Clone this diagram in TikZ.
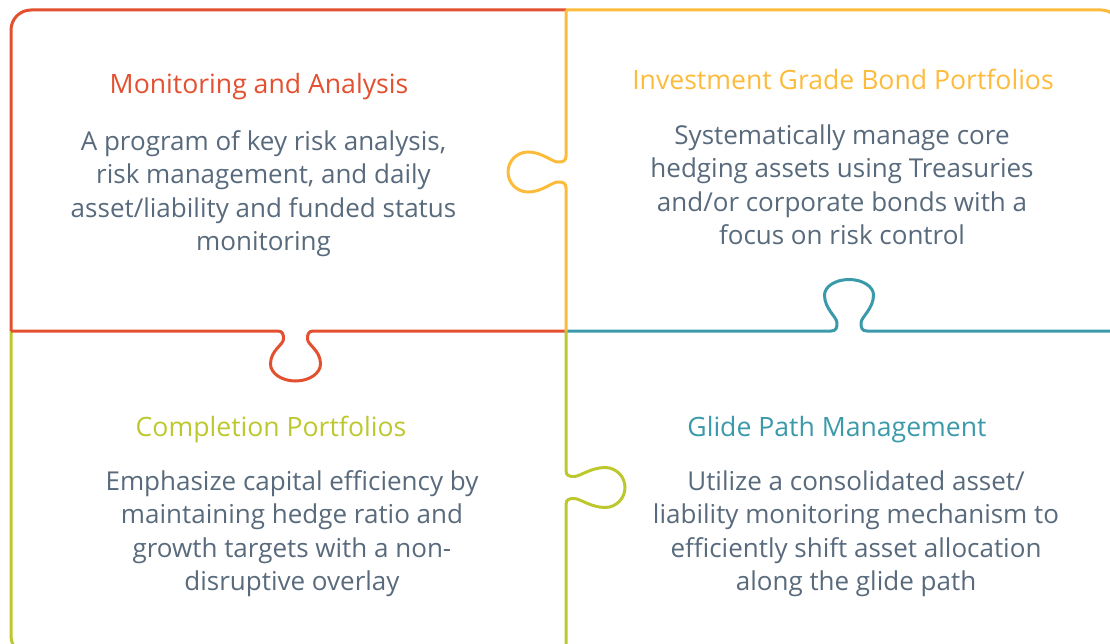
\documentclass[tikz,border=0pt]{standalone}
\usepackage{fontspec}
\setmainfont{Open Sans}
\definecolor{cred}{HTML}{E3502F}
\definecolor{cyel}{HTML}{FDBB3C}
\definecolor{cteal}{HTML}{3B9AAA}
\definecolor{cgreen}{HTML}{BDC82E}
\definecolor{cgray}{HTML}{586A7C}
\tikzset{
  edge/.style={line width=3pt},
  title/.style={anchor=base, font=\fontsize{26.6}{30}\selectfont, inner sep=0pt},
  body/.style={align=center, text=cgray, font=\fontsize{26}{33.5}\selectfont, inner sep=0pt},
}
\newcommand{\tN}{12}\newcommand{\tW}{25}\newcommand{\tD}{50}\newcommand{\tV}{33}
\newcommand{\tabedge}[3]{%
 \draw[edge,#1] (-#2,0) -- ({-\tN-6},0) .. controls ({-\tN-1},0) and (-\tN,3) .. (-\tN,8)
 .. controls (-\tN,14) and (-\tW,{\tV-14}) .. (-\tW,\tV)
 .. controls (-\tW,{\tV+0.55*(\tD-\tV)}) and ({-0.55*\tW},\tD) .. (0,\tD)
 .. controls ({0.55*\tW},\tD) and (\tW,{\tV+0.55*(\tD-\tV)}) .. (\tW,\tV)
 .. controls (\tW,{\tV-14}) and (\tN,14) .. (\tN,8)
 .. controls (\tN,3) and ({\tN+1},0) .. ({\tN+6},0) -- (#3,0);}
\begin{document}
\begin{tikzpicture}[x=1pt,y=-1pt]
\useasboundingbox (0,0) rectangle (1110,644);
\clip (0,0) rectangle (1110,644);
% outer borders
\draw[edge,cred,rounded corners=20] (566,10) -- (11,10) -- (11,331);
\draw[edge,cyel,rounded corners=20] (566,10) -- (1121,10) -- (1121,331);
\draw[edge,cteal,rounded corners=20] (1121,331) -- (1121,656) -- (566,656);
\draw[edge,cgreen,rounded corners=20] (11,331) -- (11,656) -- (566,656);
% red horizontal edge with tab down
\renewcommand{\tN}{12}\renewcommand{\tW}{25}\renewcommand{\tD}{50}\renewcommand{\tV}{33}
\tabedge{cred,shift={(295.5,331)},x={(1pt,0pt)},y={(0pt,-1pt)}}{284.5}{270.5}
% teal horizontal edge with tab up
\renewcommand{\tN}{12}\renewcommand{\tW}{24.5}\renewcommand{\tD}{51.5}\renewcommand{\tV}{36}
\tabedge{cteal,shift={(849,331)},x={(1pt,0pt)},y={(0pt,1pt)}}{283}{272}
% yellow vertical edge with tab left
\renewcommand{\tN}{10}\renewcommand{\tW}{20}\renewcommand{\tD}{58}\renewcommand{\tV}{38}
\tabedge{cyel,shift={(566,172)},x={(0pt,-1pt)},y={(-1pt,0pt)}}{162}{159}
% green vertical edge with tab right
\renewcommand{\tN}{11}\renewcommand{\tW}{20}\renewcommand{\tD}{59}\renewcommand{\tV}{39}
\tabedge{cgreen,shift={(566,487.5)},x={(0pt,-1pt)},y={(1pt,0pt)}}{156.5}{168.5}
% texts
\node[title,text=cred] (t1) at (259,94) {Monitoring and Analysis};
\node[body] (b1) at (263.5,193.5) {A program of key risk analysis,\\risk management, and daily\\asset/liability and funded status\\monitoring};
\node[title,text=cyel] (t2) at (843,90) {Investment Grade Bond Portfolios};
\node[body] (b2) at (842,185) {Systematically manage core\\hedging assets using Treasuries\\and/or corporate bonds with a\\focus on risk control};
\node[title,text=cgreen] (t3) at (271,436) {Completion Portfolios};
\node[body] (b3) at (292,533.5) {Emphasize capital efficiency by\\maintaining hedge ratio and\\growth targets with a non-\\disruptive overlay};
\node[title,text=cteal] (t4) at (837,436) {Glide Path Management};
\node[body] (b4) at (856,533.5) {Utilize a consolidated asset/\\liability monitoring mechanism to\\efficiently shift asset allocation\\along the glide path};
\end{tikzpicture}
\end{document}
